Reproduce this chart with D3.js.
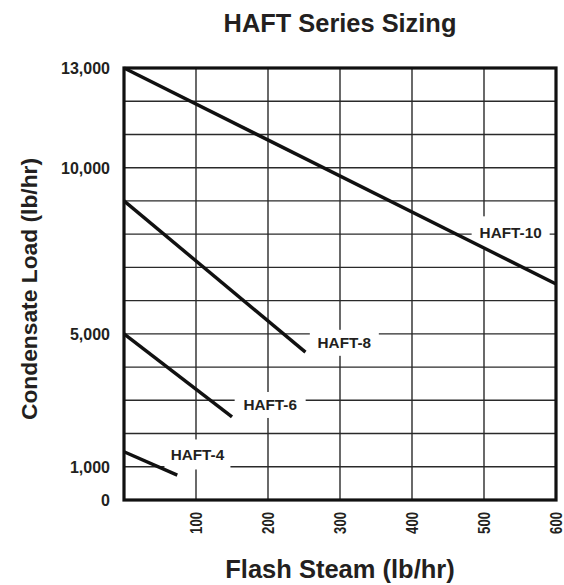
<!DOCTYPE html>
<html>
<head>
<meta charset="utf-8">
<script src="https://cdn.jsdelivr.net/npm/d3@7"></script>
<style>
  body { margin: 0; background: #fff; }
  text { font-family: "Liberation Sans", Arial, Helvetica, sans-serif; font-weight: bold; fill: #231f20; }
  .tick text { font-size: 16px; font-weight: bold; }
</style>
</head>
<body>
<svg id="chart" width="564" height="585"></svg>
<script>
// sizing curves, flash steam (lb/hr) vs condensate load (lb/hr)
var series = ["HAFT-10", "HAFT-8", "HAFT-6", "HAFT-4"]
var haft10 = [[0, 13000], [600, 6500]]
var haft8 = [[0, 9000], [252, 4450]]
var haft6 = [[0, 5000], [150, 2500]]
var haft4 = [[0, 1450], [74, 750]]
// where each series name sits, in data units
var labelAt = [[537, 8040], [306, 4730], [203, 2860], [102, 1370]]

var xTicks = [100, 200, 300, 400, 500, 600]
var yTicks = [0, 1000, 5000, 10000, 13000]
var yGrid = d3.range(1000, 13000, 1000)

var svg = d3.select('#chart'),
    width = +svg.attr('width'),
    height = +svg.attr('height')

var margin = {top: 68, right: 8, bottom: 85, left: 124}

var x = d3.scaleLinear()
  .domain([0, 600])
  .range([margin.left, width - margin.right])

var y = d3.scaleLinear()
  .domain([0, 13000])
  .range([height - margin.bottom, margin.top])

// grid
svg.append('g')
  .attr('stroke', '#2a2a2a').attr('stroke-width', 1.4)
  .selectAll('line.h').data(yGrid).enter().append('line')
    .attr('x1', x(0)).attr('x2', x(600))
    .attr('y1', function(d) { return y(d) })
    .attr('y2', function(d) { return y(d) })

svg.append('g')
  .attr('stroke', '#2a2a2a').attr('stroke-width', 1.4)
  .selectAll('line.v').data(xTicks.slice(0, -1)).enter().append('line')
    .attr('y1', y(0)).attr('y2', y(13000))
    .attr('x1', function(d) { return x(d) })
    .attr('x2', function(d) { return x(d) })

// white boxes behind the series names
var labelSize = [[78, 33], [69, 26], [71, 26], [66, 30]]
svg.append('g')
  .selectAll('rect').data(labelAt).enter().append('rect')
    .attr('fill', '#fff')
    .attr('x', function(d, i) { return x(d[0]) - labelSize[i][0] / 2 })
    .attr('y', function(d, i) { return y(d[1]) - labelSize[i][1] / 2 })
    .attr('width', function(d, i) { return labelSize[i][0] })
    .attr('height', function(d, i) { return labelSize[i][1] })

// curves
var line = d3.line()
  .x(function(d) { return x(d[0]) })
  .y(function(d) { return y(d[1]) })

svg.append('g')
  .selectAll('path').data([haft10, haft8, haft6, haft4]).enter().append('path')
    .attr('d', line)
    .attr('fill', 'none')
    .attr('stroke', '#111')
    .attr('stroke-width', 3.4)

svg.append('g')
  .selectAll('text').data(labelAt).enter().append('text')
    .attr('x', function(d) { return x(d[0]) })
    .attr('y', function(d) { return y(d[1]) })
    .attr('text-anchor', 'middle')
    .attr('dy', '0.36em')
    .attr('font-size', 15.3)
    .text(function(d, i) { return series[i] })

// frame
svg.append('rect')
  .attr('x', x(0)).attr('y', y(13000))
  .attr('width', x(600) - x(0)).attr('height', y(0) - y(13000))
  .attr('fill', 'none').attr('stroke', '#111').attr('stroke-width', 3.2)

// axes
var yAxis = svg.append('g')
  .attr('transform', 'translate(' + (x(0) - 14) + ',0)')
  .call(d3.axisLeft(y).tickValues(yTicks).tickSize(0).tickPadding(0).tickFormat(d3.format(',')))
yAxis.select('.domain').remove()
yAxis.selectAll('text').attr('fill', null).attr('dy', '0.36em')

var xAxis = svg.append('g')
  .attr('transform', 'translate(0,' + (y(0) + 12) + ')')
  .call(d3.axisBottom(x).tickValues(xTicks).tickSize(0).tickPadding(0))
xAxis.select('.domain').remove()
xAxis.selectAll('text')
  .attr('fill', null)
  .attr('transform', 'rotate(-90) scale(0.82,1)')
  .attr('text-anchor', 'end')
  .attr('x', 0).attr('y', 0).attr('dy', '0.36em')

// titles
svg.append('text')
  .attr('x', (x(0) + x(600)) / 2).attr('y', 32)
  .attr('text-anchor', 'middle').attr('font-size', 25.4)
  .text('HAFT Series Sizing')

svg.append('text')
  .attr('x', (x(0) + x(600)) / 2).attr('y', 578)
  .attr('text-anchor', 'middle').attr('font-size', 25.5)
  .text('Flash Steam (lb/hr)')

svg.append('text')
  .attr('transform', 'translate(37,' + 289 + ') rotate(-90)')
  .attr('text-anchor', 'middle').attr('font-size', 22.8)
  .text('Condensate Load (lb/hr)')
</script>
</body>
</html>
